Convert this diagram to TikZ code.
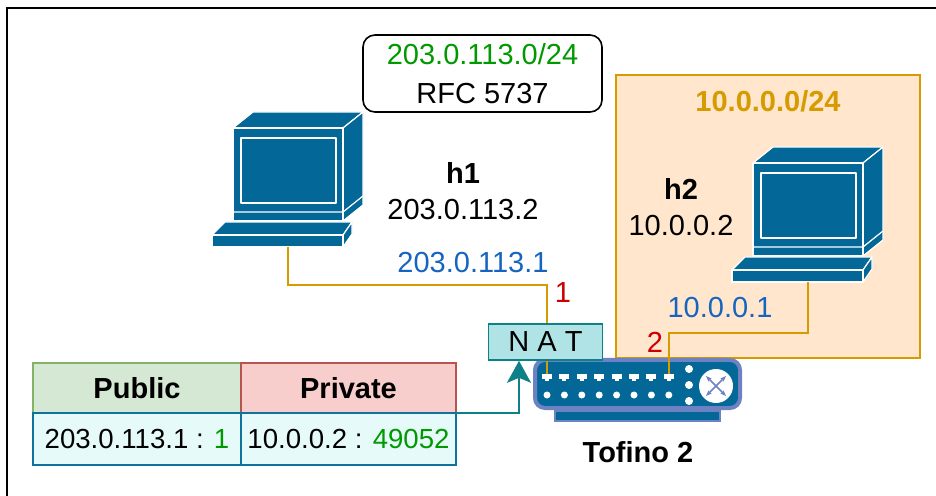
\documentclass[tikz,border=0pt]{standalone}
\usepackage{fontspec}
\setmainfont{Liberation Sans}
\usetikzlibrary{arrows.meta, positioning}
\definecolor{pcblue}{RGB}{3,104,151}
\definecolor{swrim}{RGB}{108,130,194}
\definecolor{lanfill}{RGB}{255,230,204}
\definecolor{lanline}{RGB}{215,155,0}
\definecolor{natfill}{RGB}{176,227,230}
\definecolor{natline}{RGB}{14,128,136}
\definecolor{pubfill}{RGB}{213,232,212}
\definecolor{publine}{RGB}{130,179,102}
\definecolor{privfill}{RGB}{248,206,204}
\definecolor{privline}{RGB}{184,84,80}
\definecolor{rowfill}{RGB}{230,250,250}
\definecolor{rowline}{RGB}{16,115,158}
\definecolor{addrblue}{RGB}{21,101,192}
\definecolor{okgreen}{RGB}{0,153,0}
\definecolor{portred}{RGB}{204,0,0}

% desktop computer icon, origin at top left of the screen face
\tikzset{
  pc/.pic={
    \begin{scope}[draw=white, fill=pcblue, line width=0.6pt, line join=round]
      \filldraw (0,0) -- (20,-16) -- (130,-16) -- (110,0) -- cycle;
      \filldraw (110,0) -- (130,-16) -- (130,77) -- (110,93) -- cycle;
      \filldraw (0,0) rectangle (110,93);
      \draw (0,84) -- (110,84) -- (130,68);
      \draw[line width=1.2pt] (8,10) rectangle (103,75);
      % keyboard
      \filldraw (-21,107) -- (-8,94) -- (119,94) -- (110,107) -- cycle;
      \filldraw (110,107) -- (119,94) -- (119,106) -- (110,119) -- cycle;
      \filldraw (-21,107) rectangle (110,119);
    \end{scope}
    \coordinate (-cable) at (55,119);
  }
}

\begin{document}
\begin{tikzpicture}[
  x=0.5pt, y=-0.5pt,
  every node/.append style={font=\fontsize{14.5}{18}\selectfont},
  lan/.style={draw=lanline, line width=1pt},
  lanbox/.style={draw=lanline, fill=lanfill, line width=1pt, minimum width=152pt, minimum height=141.5pt},
  infobox/.style={draw, rounded corners=6pt, line width=0.8pt, align=center, minimum width=119.5pt, minimum height=38.5pt,
    font=\fontsize{14.5}{19.5}\selectfont},
  hostlbl/.style={align=center, inner sep=0pt},
  addr/.style={text=addrblue, inner sep=0pt},
  portnum/.style={text=portred, inner sep=0pt},
  natbox/.style={draw=natline, fill=natfill, line width=0.8pt, minimum width=57pt, minimum height=18pt, inner sep=0pt},
  swbody/.style={draw=swrim, fill=pcblue, line width=2pt, rounded corners=5pt, minimum width=102.5pt, minimum height=24pt},
  swbase/.style={draw=swrim, fill=pcblue, line width=1pt, minimum width=82.5pt, minimum height=5pt, inner sep=0pt},
  port/.style={fill=white, minimum width=5pt, minimum height=2.5pt, inner sep=0pt},
  hdr/.style={line width=0.8pt, outer sep=0pt, minimum height=25pt, inner sep=0pt},
  cell/.style={draw=rowline, fill=rowfill, line width=1pt, outer sep=0pt, minimum height=26pt, inner sep=0pt,
    font=\fontsize{13.8}{17}\selectfont},
  natarrow/.style={draw=natline, line width=1pt, -{Stealth[length=11pt, width=12pt, inset=2.5pt]}}
]
  \useasboundingbox (0,0) rectangle (936,496);
  \draw[line width=1.3pt] (936,8) -- (7,8) -- (7,496);

  % private LAN
  \node[lanbox] (lan) at (768,216.5) {};
  \node[text=lanline, font=\fontsize{14.5}{18}\selectfont\bfseries] (lanname) at ([yshift=-13.5pt]lan.north) {10.0.0.0/24};

  \node[infobox] (subnet) at (482.5,73.5) {\textcolor{okgreen}{203.0.113.0/24}\\RFC 5737};

  % hosts
  \pic (h1) at (233,128) {pc};
  \pic (h2) at (753,163) {pc};
  \node[hostlbl] (h1lbl) at (463,191) {\textbf{h1}\\203.0.113.2};
  \node[hostlbl] (h2lbl) at (681,207) {\textbf{h2}\\10.0.0.2};

  % switch
  \node[swbody] (tof) at (637.5,384) {};
  \node[swbase] (tofbase) [below=0pt of tof] {};
  \foreach \i in {0,...,7} {
    \node[port] (p\i) at (547+17.4*\i,376.5) {};
    \fill[white] ([xshift=-1pt]p\i.south) rectangle ++(4,2);
    \fill[white] (547+17.4*\i,395) circle (1.75pt);
  }
  \foreach \y in {369,385,401}
    \fill[white] (689,\y) circle (2pt);
  \node[circle, fill=white, minimum size=17pt, inner sep=0pt] (xbar) at (716,386) {};
  \draw[swrim, line width=0.8pt, {Stealth[length=3pt]}-{Stealth[length=3pt]}]
    ([shift={(-5pt,-5pt)}]xbar.center) -- ([shift={(5pt,5pt)}]xbar.center);
  \draw[swrim, line width=0.8pt, {Stealth[length=3pt]}-{Stealth[length=3pt]}]
    ([shift={(-5pt,5pt)}]xbar.center) -- ([shift={(5pt,-5pt)}]xbar.center);
  \node[font=\fontsize{14.5}{18}\selectfont\bfseries] (tofname) at (638,452) {Tofino 2};

  % links
  \draw[lan] (h1-cable) -- ++(0,38) -| (p0.north);
  \draw[lan] (h2-cable) -- ++(0,51) -| (p7.north);
  \node[addr] (h1gw) at (473,263) {203.0.113.1};
  \node[portnum] (p1num) at (563,293) {1};
  \node[addr] (h2gw) at (720,308) {10.0.0.1};
  \node[portnum] (p2num) at (655,342) {2};

  \node[natbox] (nat) at (545.5,342) {N A T};

  % translation table
  \node[hdr, draw=publine, fill=pubfill, minimum width=104pt] (pub) at (137,388) {\textbf{Public}};
  \node[hdr, draw=privline, fill=privfill, minimum width=107.5pt] (priv) [right=0pt of pub] {\textbf{Private}};
  \node[cell, minimum width=104pt] (pubval) [below=0pt of pub] {203.0.113.1 : \textcolor{okgreen}{1}};
  \node[cell, minimum width=107.5pt] (privval) [below=0pt of priv] {10.0.0.2 : \textcolor{okgreen}{49052}};

  \draw[natarrow] (privval.north east) -| ([xshift=-13.25pt]nat.south);
\end{tikzpicture}
\end{document}
